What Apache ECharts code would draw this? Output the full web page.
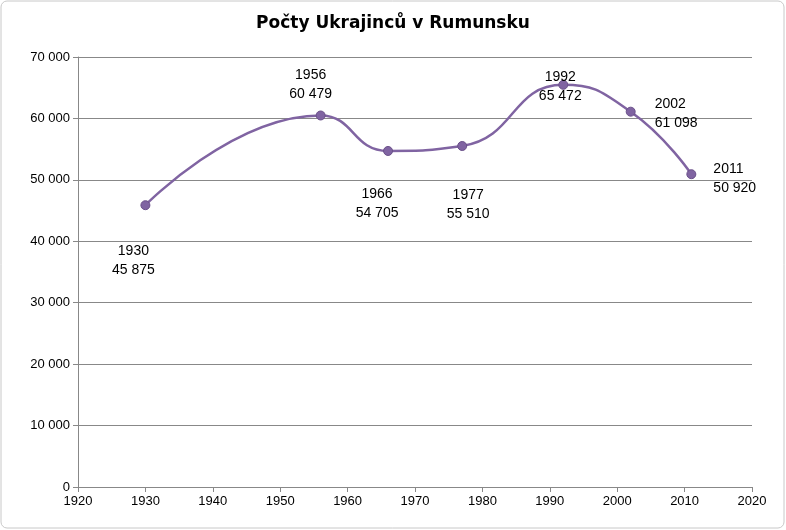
<!DOCTYPE html>
<html><head><meta charset="utf-8">
<script src="https://cdn.jsdelivr.net/npm/echarts@6/dist/echarts.min.js"></script>
<style>html,body{margin:0;padding:0;background:#fff}#c{width:786px;height:530px}</style>
</head><body><div id="c"></div>
<script>
const years = [1930, 1956, 1966, 1977, 1992, 2002, 2011];
const counts = [45875, 60479, 54705, 55510, 65472, 61098, 50920];
const titleText = 'Počty Ukrajinců v Rumunsku';

const fmt = v => String(v).replace(/\B(?=(\d{3})+(?!\d))/g, ' ');
const place = [
  {position:'bottom', offset:[-12,26]},
  {position:'top', offset:[-10,-2]},
  {position:'bottom', offset:[-11,24]},
  {position:'bottom', offset:[6,30]},
  {position:'inside', offset:[-3,2]},
  {position:'right', align:'left', offset:[14,2]},
  {position:'right', align:'left', offset:[12,4]}
];
const data = years.map((y,i)=>({value:[y,counts[i]], label:place[i]}));
const chart = echarts.init(document.getElementById('c'));
chart.setOption({
  animation:false,
  graphic:[{type:'rect',shape:{x:1,y:1,width:783,height:527,r:6},style:{fill:'none',stroke:'#c8c8c8',lineWidth:1}}],
  title:{text:titleText,left:'center',top:10,textStyle:{fontFamily:'DejaVu Sans',fontWeight:'bold',fontSize:17,color:'#000'}},
  grid:{left:78,right:34,top:57,bottom:43},
  xAxis:{type:'value',min:1920,max:2020,interval:10,
    axisLine:{lineStyle:{color:'#888'}},axisTick:{show:true,lineStyle:{color:'#888'}},
    splitLine:{show:false},axisLabel:{color:'#000',fontSize:13,fontFamily:'Liberation Sans',formatter:v=>String(v)}},
  yAxis:{type:'value',min:0,max:70000,interval:10000,
    axisLine:{show:true,lineStyle:{color:'#888'}},axisTick:{show:true,lineStyle:{color:'#888'}},
    splitLine:{lineStyle:{color:'#888'}},
    axisLabel:{color:'#000',fontSize:13,fontFamily:'Liberation Sans',formatter:fmt}},
  series:[{type:'line',smooth:0.5,data:data,symbol:'circle',symbolSize:9,
    lineStyle:{color:'#8064A2',width:2.5},
    itemStyle:{color:'#8064A2',borderColor:'#6a5089',borderWidth:1},
    label:{show:true,color:'#000',fontSize:14,fontFamily:'Liberation Sans',lineHeight:19,align:'center',
      formatter:p=>p.value[0]+'\n'+fmt(p.value[1])}}]
});
</script></body></html>
